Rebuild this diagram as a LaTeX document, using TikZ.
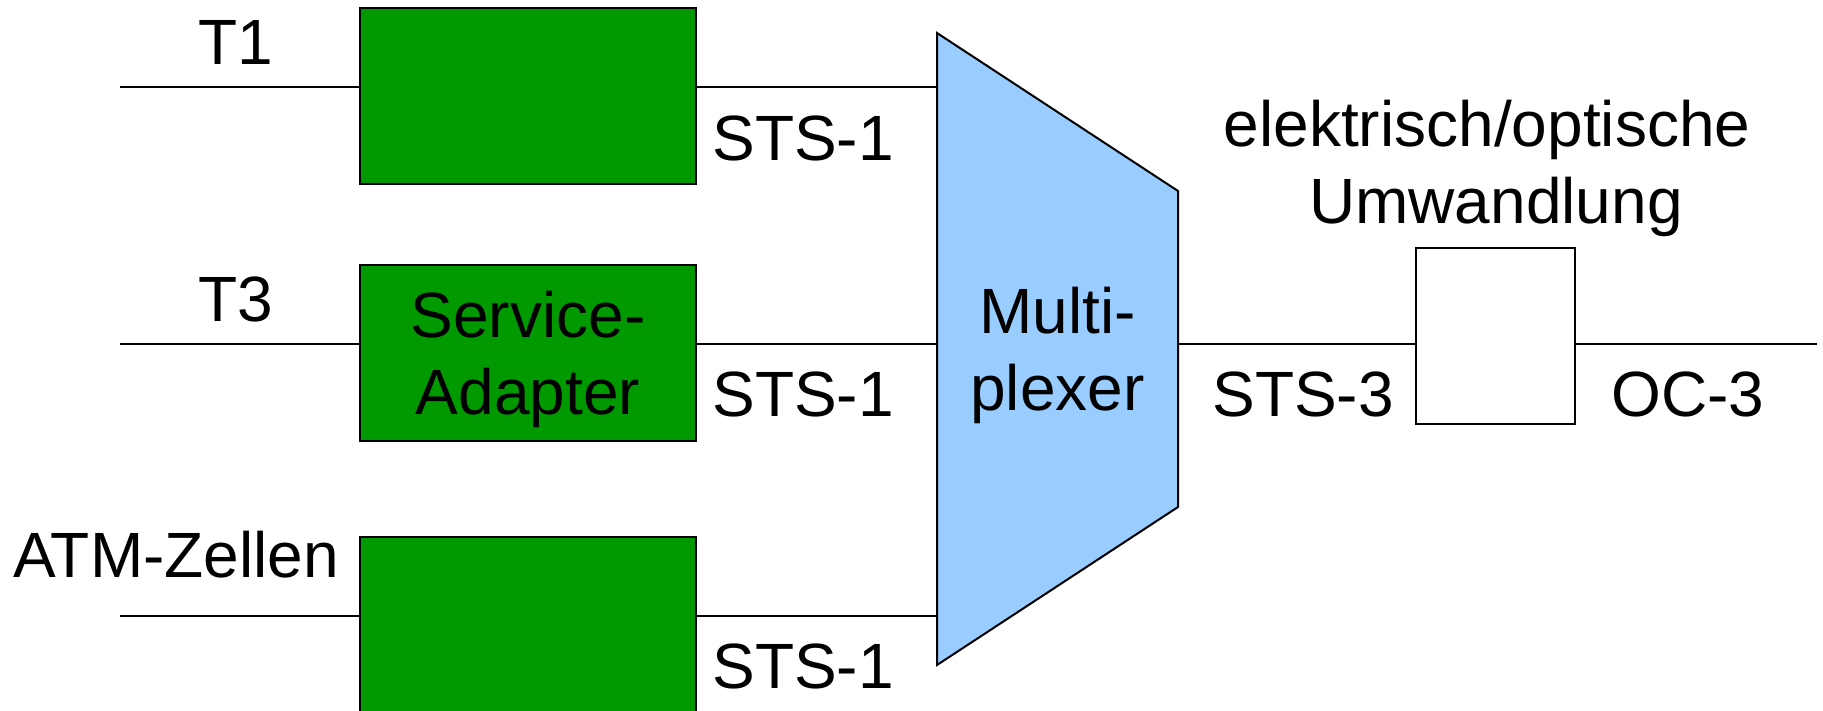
\documentclass[tikz,border=0pt]{standalone}
\usepackage{fontspec}
\setmainfont{Liberation Sans}
\usetikzlibrary{positioning, calc}
\definecolor{AdapterGreen}{HTML}{009900}
\definecolor{MuxBlue}{HTML}{99CCFF}
\tikzset{
  % Text styles
  bigfont/.style={font=\fontsize{32}{38.5}\selectfont},
  sigtext/.style={bigfont, inner sep=0pt, anchor=base},
  % Box styles
  adapterbox/.style={rectangle, draw=black, fill=AdapterGreen, line width=1pt, minimum width=168pt, minimum height=88pt, inner sep=0pt, bigfont, align=center, text depth=0pt},
  convbox/.style={rectangle, draw=black, fill=white, line width=1pt, minimum width=79.5pt, minimum height=88pt, inner sep=0pt},
  muxshape/.style={draw=black, fill=MuxBlue, line width=1pt, line join=miter},
  % Line styles
  wire/.style={line width=1pt}
}
\begin{document}
\begin{tikzpicture}[x=0.5pt, y=-0.5pt]
  \useasboundingbox (0,0) rectangle (1823,711);

  % Adapter boxes
  \node[adapterbox] (ad1) at (528,96) {};
  \node[adapterbox] (ad2) at (528,353) {Service-\\Adapter};
  \node[adapterbox] (ad3) at (528,625) {};

  % Multiplexer
  \coordinate (muxTL) at (937,33);
  \coordinate (muxTR) at (1178,191);
  \coordinate (muxBR) at (1178,507);
  \coordinate (muxBL) at (937,665);
  \draw[muxshape] (muxTL) -- (muxTR) -- (muxBR) -- (muxBL) -- cycle;
  \node[bigfont, align=center, text depth=0pt, inner sep=0pt] (mux) at (1057.5,349) {Multi-\\plexer};

  % Converter
  \node[convbox] (conv) at (1495.5,336) {};

  % Signal lines
  \coordinate (in1) at (120,87);
  \coordinate (in2) at (120,344);
  \coordinate (in3) at (120,616);
  \coordinate (out) at (1817,344);
  \foreach \i in {1,2,3} {
    \draw[wire] (in\i) -- (in\i -| ad\i.west);
    \draw[wire] (in\i -| ad\i.east) -- (in\i -| muxTL);
  }
  \draw[wire] (in2 -| muxTR) -- (in2 -| conv.west);
  \draw[wire] (conv.east |- out) -- (out);

  % Labels
  \node[sigtext] (lblT1) at (236,65) {T1};
  \node[sigtext] (lblT3) at (236,321) {T3};
  \node[sigtext] (lblATM) at (176,577) {ATM-Zellen};
  \node[sigtext] (lblsts1) at (803,161) {STS-1};
  \node[sigtext] (lblsts2) at (803,416) {STS-1};
  \node[sigtext] (lblsts3) at (803,688) {STS-1};
  \node[sigtext] (lblsts) at (1303,416) {STS-3};
  \node[sigtext] (lbloc) at (1688,416) {OC-3};
  \node[sigtext] (lblconv) at (1487,147) {elektrisch/optische};
  \node[sigtext] (lblconvb) at (1496,223) {Umwandlung};
\end{tikzpicture}
\end{document}
